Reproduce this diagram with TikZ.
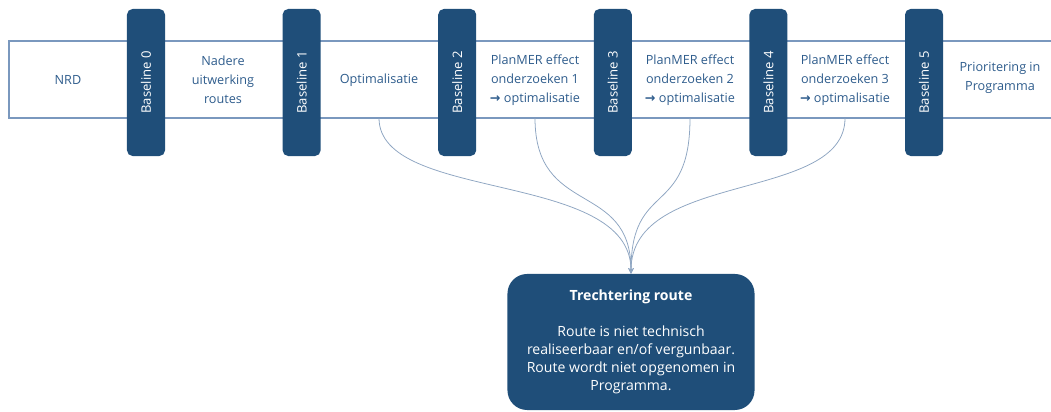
\documentclass[tikz,border=0pt]{standalone}
\usepackage{fontspec}
\setmainfont{Open Sans}
\newfontfamily\arrowfont{DejaVu Sans}
\usepackage{graphicx}
\usetikzlibrary{arrows.meta, positioning}
\definecolor{navy}{HTML}{1F4E79}
\definecolor{bandline}{HTML}{7A98BE}
\definecolor{phasetext}{HTML}{2E5C8C}
\definecolor{linkline}{HTML}{8FA6C2}

\newcommand{\toarrow}{{\arrowfont\bfseries\fontsize{9}{10}\selectfont →}}

\begin{document}
\begin{tikzpicture}[
  x=0.025cm, y=0.025cm,
  node distance=2.925cm,
  pillar/.style={fill=navy, rounded corners=4pt,
                 minimum width=0.95cm, minimum height=3.675cm,
                 inner sep=0pt, text=white, font=\fontsize{9.3}{12}\selectfont},
  phase/.style={text=phasetext, align=center,
                font=\fontsize{9}{13.5}\selectfont},
  band/.style={draw=bandline, line width=0.8pt},
  result/.style={fill=navy, rounded corners=14pt, text=white, align=center,
                 minimum width=6.175cm, minimum height=3.4cm,
                 font=\fontsize{10}{12.8}\selectfont},
  link/.style={draw=linkline, line width=0.55pt, -{Stealth[length=4pt, width=4pt]}}
]
  \useasboundingbox (0,0) rectangle (1051,412);

  % Band
  \draw[band] (1051,371) -- (9,371) -- (9,294) -- (1051,294);

  % Baselines
  \node[pillar] (b0) at (146,329.5) {\rotatebox{90}{Baseline 0}};
  \node[pillar, right=of b0] (b1) {\rotatebox{90}{Baseline 1}};
  \node[pillar, right=of b1] (b2) {\rotatebox{90}{Baseline 2}};
  \node[pillar, right=of b2] (b3) {\rotatebox{90}{Baseline 3}};
  \node[pillar, right=of b3] (b4) {\rotatebox{90}{Baseline 4}};
  \node[pillar, right=of b4] (b5) {\rotatebox{90}{Baseline 5}};

  % Phases
  \node[phase] (nrd) at (68,332) {NRD};
  \node[phase] (nadere) at (223,332) {Nadere\\uitwerking\\routes};
  \node[phase] (opt) at (379,332) {Optimalisatie};
  \node[phase] (mer1) at (535,332) {PlanMER effect\\onderzoeken 1\\\toarrow{} optimalisatie};
  \node[phase] (mer2) at (690,332) {PlanMER effect\\onderzoeken 2\\\toarrow{} optimalisatie};
  \node[phase] (mer3) at (845,332) {PlanMER effect\\onderzoeken 3\\\toarrow{} optimalisatie};
  \node[phase] (prio) at (1000,334) {Prioritering in\\Programma};

  % Result
  \node[result] (trecht) at (631,70)
    {\textbf{Trechtering route}\\[12.8pt]
     Route is niet technisch\\realiseerbaar en/of vergunbaar.\\
     Route wordt niet opgenomen in\\Programma.};

  \coordinate (o1) at (379,294);
  \coordinate (o2) at (535,294);
  \coordinate (o3) at (690,294);
  \coordinate (o4) at (845,294);

  \draw[link] (o1) .. controls +(0,-85) and +(0,104) .. (trecht.north);
  \draw[link] (o2) .. controls +(0,-100) and +(0,94) .. (trecht.north);
  \draw[link] (o3) .. controls +(0,-100) and +(0,94) .. (trecht.north);
  \draw[link] (o4) .. controls +(0,-85) and +(0,104) .. (trecht.north);
\end{tikzpicture}
\end{document}
